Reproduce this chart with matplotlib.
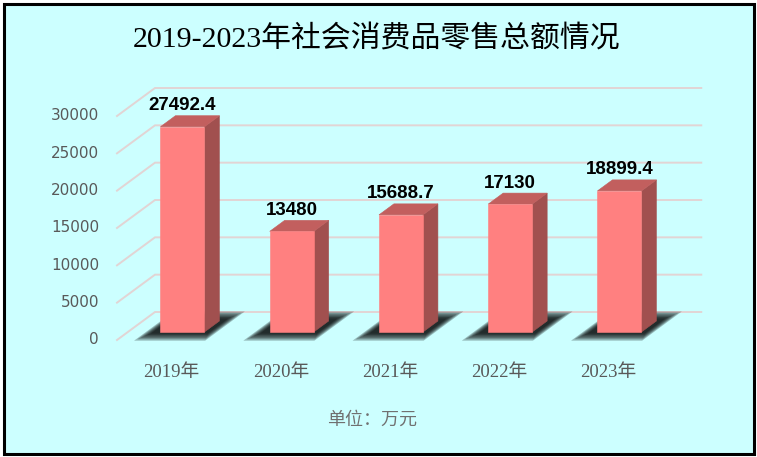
import numpy as np
from matplotlib import pyplot as plt
from matplotlib.patches import Polygon, Rectangle

# data
years = ['2019年', '2020年', '2021年', '2022年', '2023年']
sales = [27492.4, 13480, 15688.7, 17130, 18899.4]
y_ticks = [0, 5000, 10000, 15000, 20000, 25000, 30000]
title = '2019-2023年社会消费品零售总额情况'
unit_text = '单位：万元'

# colours
bg_color = '#CCFFFF'
grid_color = '#E2D4D4'
front_color = '#FF8080'
top_color = '#C25F5E'
side_color = '#A1504F'
text_gray = '#595959'

W, H = 757, 457
cat_px = 109.25            # pixels per category
val_px = 224 / 30000       # pixels per value unit

# oblique depth vector of the floor (data units), bar depth range
depth_dx = 38 / cat_px
depth_dy = 28 / val_px
t_front, t_back = 8 / 28, 19 / 28
bar_w = 44 / cat_px
cjk = ['Liberation Serif', 'Noto Sans CJK SC']


def proj(x, v, t):
    return x + t * depth_dx, v + t * depth_dy


def face(points):
    return [proj(*p) for p in points]


fig = plt.figure(figsize=(W / 100, H / 100), dpi=100)
fig.patch.set_facecolor('white')
fig.patches.append(Rectangle((3.5 / W, 3.5 / H), 750 / W, 450 / H, transform=fig.transFigure,
                             facecolor=bg_color, edgecolor='black', linewidth=2.2, zorder=-1))

ax = fig.add_axes([117 / W, (H - 340) / H, 5 * cat_px / W, 224 / H])
ax.set_xlim(-0.5, 4.5)
ax.set_ylim(0, 30000)
ax.axis('off')
ax.patch.set_alpha(0)

x_left, x_right = -0.5, len(years) - 0.5

# gridlines on side wall and back wall
for v in y_ticks:
    p0, p1, p2 = proj(x_left, v, 0), proj(x_left, v, 1), proj(x_right, v, 1)
    ax.plot([p0[0], p1[0], p2[0]], [p0[1], p1[1], p2[1]], color=grid_color, lw=1.4,
            clip_on=False, zorder=1, solid_joinstyle='miter')
    ax.annotate(str(v), (x_left, v), xytext=(-18 * 0.72, 0), textcoords='offset points',
                ha='right', va='center', fontsize=11, color=text_gray, family='DejaVu Sans')

# bars
for i, v in enumerate(sales):
    xl, xr = i - bar_w / 2, i + bar_w / 2

    # blurred floor shadow
    for k in range(6):
        e = k * 1.4 / cat_px
        et = k * 1.4 / 28
        shadow = face([(xl - 0.07 - e, 0, t_front - 0.06 - et), (xr + 0.05 + e, 0, t_front - 0.06 - et),
                       (xr + 0.05 + e, 0, t_back + 0.09 + et), (xl - 0.07 - e, 0, t_back + 0.09 + et)])
        ax.add_patch(Polygon(shadow, closed=True, facecolor='black', edgecolor='none',
                             alpha=0.25, zorder=2, clip_on=False))

    front = face([(xl, 0, t_front), (xr, 0, t_front), (xr, v, t_front), (xl, v, t_front)])
    top = face([(xl, v, t_front), (xr, v, t_front), (xr, v, t_back), (xl, v, t_back)])
    side = face([(xr, 0, t_front), (xr, 0, t_back), (xr, v, t_back), (xr, v, t_front)])
    for pts, c in [(side, side_color), (top, top_color), (front, front_color)]:
        ax.add_patch(Polygon(pts, closed=True, facecolor=c, edgecolor=c, lw=0.4,
                             zorder=3, clip_on=False))

    ax.annotate(f'{v:g}', proj(i, v, t_front), xytext=(0, 21 * 0.72), textcoords='offset points',
                ha='center', va='center', fontsize=13.5, fontweight='bold', color='black',
                family='Liberation Sans')
    ax.annotate(years[i], (i, 0), xytext=(0, -32 * 0.72), textcoords='offset points',
                ha='center', va='center', fontsize=13.5, color=text_gray, family=cjk)

fig.text(377 / W, 1 - 39 / H, title, ha='center', va='center', fontsize=21.5,
         color='black', family=cjk)
fig.text(372 / W, 1 - 420 / H, unit_text, ha='center', va='center', fontsize=13,
         color='#707070', family=cjk)

fig.savefig('out.png', dpi=100, facecolor=fig.get_facecolor())
